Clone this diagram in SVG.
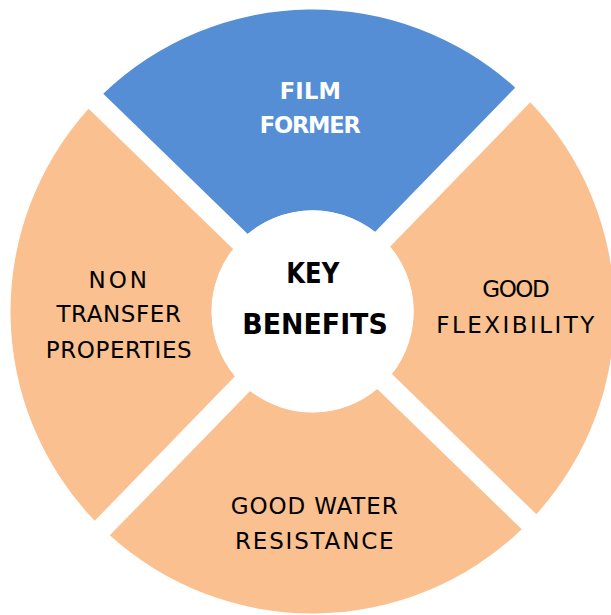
<svg xmlns="http://www.w3.org/2000/svg" width="611" height="615" viewBox="0 0 611 615">
  <style>
    .seg-blue { fill: #558ED5; }
    .seg-orange { fill: #FAC090; }
    .hub { fill: #FFFFFF; }
    .lbl { font-family: "DejaVu Sans", "Liberation Sans", sans-serif; font-size: 23px; fill: #000000; text-anchor: middle; }
    .lbl-white { font-family: "DejaVu Sans", "Liberation Sans", sans-serif; font-size: 22.5px; font-weight: bold; fill: #FFFFFF; text-anchor: middle; }
    .lbl-hub { font-family: "DejaVu Sans", "Liberation Sans", sans-serif; font-size: 28px; font-weight: bold; fill: #000000; text-anchor: middle; }
  </style>
  <rect width="611" height="615" fill="#FFFFFF"/>
  <g id="connectors"/>
  <g id="film-former">
    <path class="seg-blue" transform="translate(312.5 311.5) rotate(-0.85)" d="M -205.99,-220.84 A 302 302 0 0 1 205.99,-220.84 L 63.61,-78.46 A 101 101 0 0 0 -63.61,-78.46 Z"/>
    <text class="lbl-white" x="310.3" y="99.3" textLength="61" lengthAdjust="spacing">FILM</text>
    <text class="lbl-white" x="310.3" y="133.3" textLength="101" lengthAdjust="spacing">FORMER</text>
  </g>
  <g id="good-flexibility">
    <path class="seg-orange" transform="translate(312.5 311.5) rotate(-0.85)" d="M 220.84,-205.99 A 302 302 0 0 1 220.84,205.99 L 78.46,63.61 A 101 101 0 0 0 78.46,-63.61 Z"/>
    <text class="lbl" x="516" y="297.3" textLength="67.5" lengthAdjust="spacing">GOOD</text>
    <text class="lbl" x="515.3" y="333.3" textLength="158" lengthAdjust="spacing">FLEXIBILITY</text>
  </g>
  <g id="good-water-resistance">
    <path class="seg-orange" transform="translate(312.5 311.5) rotate(-0.85)" d="M 205.99,220.84 A 302 302 0 0 1 -205.99,220.84 L -63.61,78.46 A 101 101 0 0 0 63.61,78.46 Z"/>
    <text class="lbl" x="314.2" y="514.3" textLength="167" lengthAdjust="spacing">GOOD WATER</text>
    <text class="lbl" x="314.3" y="549" textLength="158.5" lengthAdjust="spacing">RESISTANCE</text>
  </g>
  <g id="non-transfer-properties">
    <path class="seg-orange" transform="translate(312.5 311.5) rotate(-0.85)" d="M -220.84,205.99 A 302 302 0 0 1 -220.84,-205.99 L -78.46,-63.61 A 101 101 0 0 0 -78.46,63.61 Z"/>
    <text class="lbl" x="117.7" y="287.7" textLength="58.5" lengthAdjust="spacing">NON</text>
    <text class="lbl" x="118.7" y="322.3" textLength="124.5" lengthAdjust="spacing">TRANSFER</text>
    <text class="lbl" x="118.7" y="357.7" textLength="146" lengthAdjust="spacing">PROPERTIES</text>
  </g>
  <g id="key-benefits">
    <circle class="hub" cx="312.7" cy="311.3" r="101"/>
    <text class="lbl-hub" x="312.8" y="283.3" textLength="53" lengthAdjust="spacingAndGlyphs">KEY</text>
    <text class="lbl-hub" x="315" y="334" textLength="145.5" lengthAdjust="spacingAndGlyphs">BENEFITS</text>
  </g>
</svg>
